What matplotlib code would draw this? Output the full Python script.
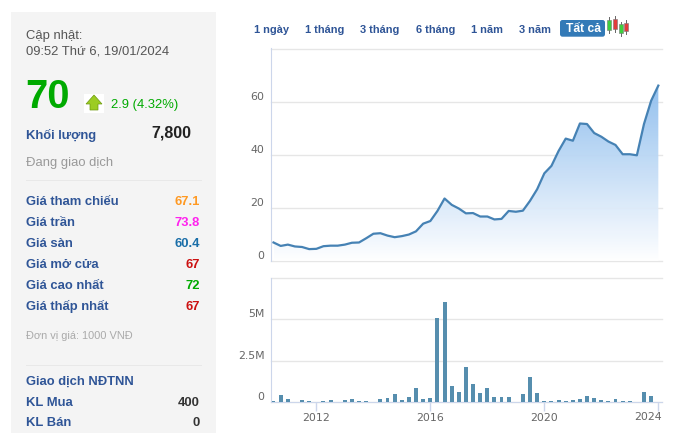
import matplotlib
matplotlib.use('Agg')
import matplotlib.pyplot as plt
import matplotlib.dates as mdates
from matplotlib.patches import Rectangle, FancyBboxPatch, Polygon
from matplotlib.colors import LinearSegmentedColormap
import numpy as np
import pandas as pd

plt.rcParams['font.family'] = ['Liberation Sans', 'DejaVu Sans']

W, H = 679, 433

# quarterly points
dates = pd.date_range('2010-07-01', periods=55, freq='QS')
price = [7.1, 5.8, 6.3, 5.6, 5.4, 4.6, 4.7, 5.7, 5.9, 5.9, 6.3, 7.0, 7.1, 8.7,
         10.4, 10.6, 9.7, 9.1, 9.5, 10.1, 11.3, 14.2, 15.2, 19.0, 23.7, 21.3,
         19.9, 18.1, 18.2, 16.9, 16.9, 15.8, 16.0, 19.0, 18.7, 19.1, 22.8, 27.2,
         33.2, 36.0, 41.6, 46.3, 45.5, 52.0, 51.8, 48.4, 47.0, 45.2, 43.9, 40.4,
         40.4, 40.0, 51.8, 60.6, 66.3]
volume = [0.08, 0.44, 0.20, 0, 0.14, 0.08, 0, 0.06, 0.14, 0, 0.14, 0.20, 0.06,
          0.06, 0, 0.20, 0.26, 0.50, 0.14, 0.32, 0.86, 0.20, 0.26, 5.08, 6.04,
          0.98, 0.62, 2.13, 1.10, 0.56, 0.86, 0.32, 0.32, 0.32, 0, 0.50, 1.53,
          0.56, 0.06, 0.06, 0.14, 0.06, 0.14, 0.20, 0.38, 0.26, 0.14, 0.08, 0.20,
          0.06, 0.06, 0, 0.62, 0.38, 0]

price_ticks = [0, 20, 40, 60, 80]
price_labels = ['0', '20', '40', '60', '']
volume_ticks = [0, 2.5, 5, 7.5]
volume_labels = ['0', '2.5M', '5M', '']
year_ticks = ['2012', '2016', '2020', '2024']

ranges = ['1 ngày', '1 tháng', '3 tháng', '6 tháng', '1 năm', '3 năm']
range_x = [254, 305, 360, 416, 471, 519]

rows = [('Giá tham chiếu', '67.1', '#ff9922'), ('Giá trần', '73.8', '#ff22ee'),
        ('Giá sàn', '60.4', '#1a6ea8'), ('Giá mở cửa', '67', '#cc1111'),
        ('Giá cao nhất', '72', '#00aa00'), ('Giá thấp nhất', '67', '#cc1111')]
row_y = [205, 226, 247, 268, 289, 310]

BLUE = '#2f5597'
GRID = '#e6e6e6'
AXIS = '#ccd6eb'
LINE = '#4682b4'
TICK = '#666666'


def px_axes(left, top, right, bottom):
    return fig.add_axes([left / W, 1 - bottom / H, (right - left) / W, (bottom - top) / H])


def fs(px):
    return px * 0.72


fig = plt.figure(figsize=(W / 100, H / 100), dpi=100, facecolor='white')

# panel + text layer (y values are text baselines)
bg = fig.add_axes([0, 0, 1, 1], zorder=0)
bg.set_xlim(0, W)
bg.set_ylim(H, 0)
bg.axis('off')
bg.add_patch(Rectangle((11, 12), 205, 421, fc='#f4f4f4', ec='none'))

bg.text(26, 39.3, 'Cập nhật:', fontsize=fs(13), color='#555555')
bg.text(26, 54.3, '09:52 Thứ 6, 19/01/2024', fontsize=fs(13), color='#555555')
bg.text(25, 108, '70', fontsize=fs(40), color='#00aa00', fontweight='bold')
bg.add_patch(Rectangle((84, 94), 20, 19, fc='white', ec='none'))
bg.add_patch(Polygon([(94, 95), (102, 104), (98, 104), (98, 110), (90, 110), (90, 104), (86, 104)],
                     fc='#9ccc22', ec='#6d9a10', lw=0.5))
bg.text(111, 108, '2.9 (4.32%)', fontsize=fs(13), color='#00aa00')
bg.text(26, 139.3, 'Khối lượng', fontsize=fs(13), color=BLUE, fontweight='bold')
bg.text(191, 137.7, '7,800', fontsize=fs(16), color='#222222', ha='right', fontweight='bold')
bg.text(26, 166, 'Đang giao dịch', fontsize=fs(13), color='#999999')
bg.plot([26, 201], [179.5, 179.5], color='#e8e8e8', lw=0.72)
for (name, val, col), y in zip(rows, row_y):
    bg.text(26, y, name, fontsize=fs(13), color=BLUE, fontweight='bold')
    bg.text(200, y, val, fontsize=fs(13), color=col, ha='right', fontweight='bold')
bg.text(26, 339, 'Đơn vị giá: 1000 VNĐ', fontsize=fs(11), color='#aaaaaa')
bg.plot([26, 201], [364.5, 364.5], color='#e8e8e8', lw=0.72)
bg.text(26, 384.7, 'Giao dịch NĐTNN', fontsize=fs(13), color=BLUE, fontweight='bold')
bg.text(26, 405.7, 'KL Mua', fontsize=fs(13), color=BLUE, fontweight='bold')
bg.text(200, 405.7, '400', fontsize=fs(13), color='#333333', ha='right', fontweight='bold')
bg.text(26, 426.5, 'KL Bán', fontsize=fs(13), color=BLUE, fontweight='bold')
bg.text(200, 426.5, '0', fontsize=fs(13), color='#333333', ha='right', fontweight='bold')

# range buttons
for lab, x in zip(ranges, range_x):
    bg.text(x, 32.7, lab, fontsize=fs(11), color=BLUE, fontweight='bold')
bg.add_patch(FancyBboxPatch((560, 20), 45, 16.7, boxstyle='round,pad=0,rounding_size=2.5', fc='#337ab7', ec='none'))
bg.text(583, 32.5, 'Tất cả', fontsize=fs(12), color='white', ha='center', fontweight='bold')

# candle icon
for x, lo, hi, b0, b1, c in [(609, 17, 33, 20, 30, '#3ecf3e'), (615, 16, 32, 19, 29, '#e23b3b'),
                             (621, 22, 36, 24, 33, '#3ecf3e'), (626, 20, 34, 23, 31, '#e23b3b')]:
    bg.plot([x, x], [lo, hi], color='#666666', lw=0.7)
    bg.add_patch(Rectangle((x - 2, b0), 4, b1 - b0, fc=c, ec='#777777', lw=0.4, zorder=3))

xlim = mdates.date2num([pd.Timestamp('2010-05-26'), pd.Timestamp('2024-02-17')])
x_num = mdates.date2num(dates)

# price chart
ax = px_axes(270.7, 48.5, 662, 261.3)
ax.patch.set_alpha(0)
ax.set_xlim(*xlim)
ax.set_ylim(0, 80.3)
ax.set_yticks(price_ticks, price_labels)
ax.yaxis.grid(True, color=GRID, lw=1)
ax.set_axisbelow(True)
ax.set_xticks([])
for s in ['top', 'right', 'bottom']:
    ax.spines[s].set_visible(False)
ax.spines['left'].set_color(AXIS)
ax.tick_params(axis='y', length=0, labelsize=fs(11), labelcolor=TICK, pad=4.5, labelfontfamily='DejaVu Sans')
for lab in ax.get_yticklabels():
    lab.set_va('bottom')
for g in ax.get_ygridlines():
    g.set_clip_on(False)

cmap = LinearSegmentedColormap.from_list('fill', ['#8dbdee', '#ffffff'])
im = ax.imshow(np.linspace(0, 1, 256).reshape(-1, 1), cmap=cmap, aspect='auto', alpha=0.95, zorder=1,
               extent=[x_num[0], x_num[-1], 0, max(price)], origin='upper')
poly = ax.fill_between(x_num, price, 0, color='none')
im.set_clip_path(poly.get_paths()[0], transform=ax.transData)
ax.set_xlim(*xlim)
ax.set_ylim(0, 80.3)
ax.plot(x_num, price, color=LINE, lw=1.6, zorder=3)

# volume chart
ax2 = px_axes(270.7, 277.5, 662, 402.3)
ax2.patch.set_alpha(0)
ax2.set_xlim(*xlim)
ax2.set_ylim(0, 7.52)
ax2.bar(x_num, volume, width=51, color='#568eae', zorder=3)
ax2.set_yticks(volume_ticks, volume_labels)
ax2.yaxis.grid(True, color=GRID, lw=1)
ax2.set_axisbelow(True)
year_pos = mdates.date2num([pd.Timestamp(y + '-01-01') for y in year_ticks])
# last label is pushed inside the plot edge, so it gets drawn on its own
ax2.set_xticks(year_pos, year_ticks[:-1] + [''])
ax2.annotate(year_ticks[-1], (year_pos[-1], 0), xytext=(662, 420.5), textcoords=bg.transData,
             fontsize=fs(11), color=TICK, ha='right', va='baseline', family='DejaVu Sans')
for s in ['top', 'right']:
    ax2.spines[s].set_visible(False)
ax2.spines['left'].set_color(AXIS)
ax2.spines['bottom'].set_color(AXIS)
ax2.tick_params(axis='y', length=0, labelsize=fs(11), labelcolor=TICK, pad=4.5, labelfontfamily='DejaVu Sans')
ax2.tick_params(axis='x', length=6.5, width=1, color=AXIS, labelsize=fs(11), labelcolor=TICK, pad=1,
                labelfontfamily='DejaVu Sans')
for lab in ax2.get_yticklabels():
    lab.set_va('bottom')
for g in ax2.get_ygridlines():
    g.set_clip_on(False)

fig.savefig('out.png', dpi=100)
